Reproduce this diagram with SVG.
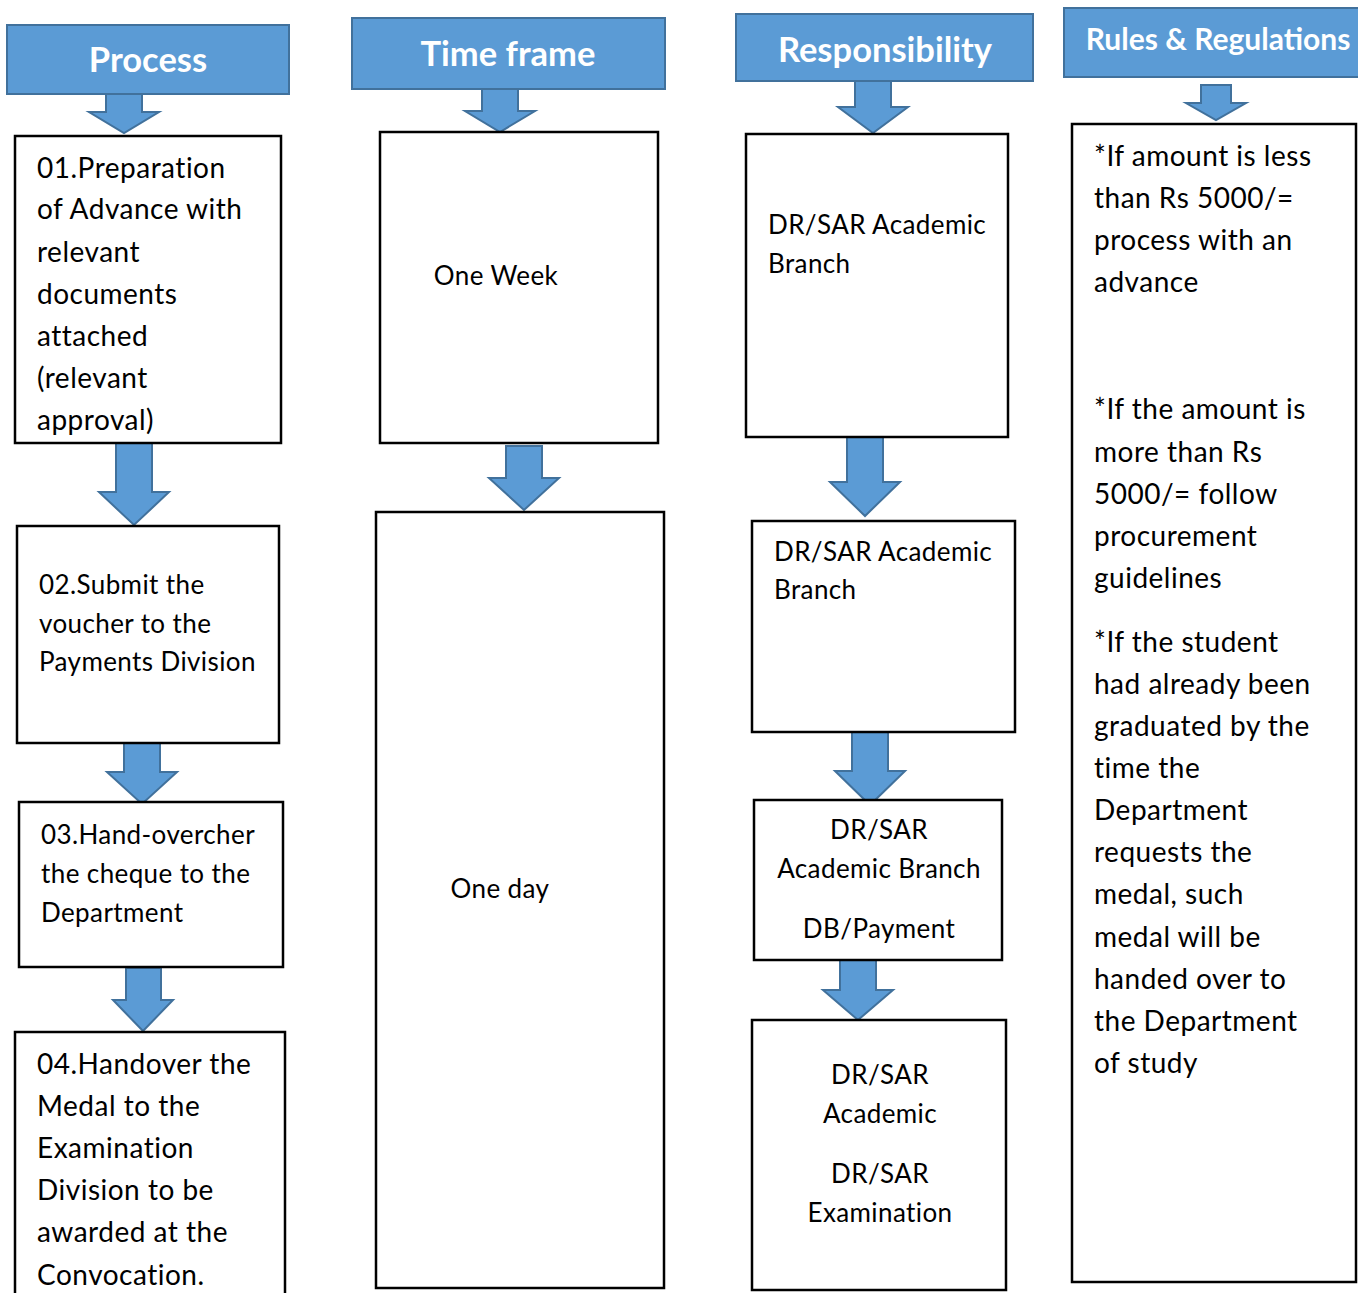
<svg xmlns="http://www.w3.org/2000/svg" width="1358" height="1293" viewBox="0 0 1358 1293">
<style>
.hdr{fill:#5B9BD5;stroke:#41719C;stroke-width:2}
.ht{fill:#fff;font-family:Lato,"Open Sans",sans-serif;font-weight:bold;font-size:34.5px;text-anchor:middle}
.box{fill:#fff;stroke:#000;stroke-width:2.5}
.t{fill:#000;font-family:Lato,"Noto Sans",sans-serif;font-size:28px;letter-spacing:0.5px}
.s{font-size:26px;letter-spacing:0.4px}
.c{text-anchor:middle}
.arr{fill:#5B9BD5;stroke:#41719C;stroke-width:2}
</style>
<rect width="1358" height="1293" fill="#fff"/>
<g id="connectors">
<path class="arr" d="M106,94H142V112H159L124,133L89,112H106Z"/>
<path class="arr" d="M482,89H518V111H535L500,132L465,111H482Z"/>
<path class="arr" d="M855,81H891V107H908L873,133L838,107H855Z"/>
<path class="arr" d="M1201,85H1231V103H1246L1216,120L1186,103H1201Z"/>
<path class="arr" d="M116,443H152V492H169L134,525L99,492H116Z"/>
<path class="arr" d="M124,743H160V772H177L142,804L107,772H124Z"/>
<path class="arr" d="M126,968H161V1000H173L143,1031L113,1000H126Z"/>
<path class="arr" d="M506,446H542V478H559L524,510L489,478H506Z"/>
<path class="arr" d="M847,437H883V482H900L865,516L830,482H847Z"/>
<path class="arr" d="M852,732H888V771H905L870,805L835,771H852Z"/>
<path class="arr" d="M840,958H876V990H893L858,1020L823,990H840Z"/>
</g>
<g id="hdr-process"><rect class="hdr" x="7" y="25" width="282" height="69"/><text class="ht" x="148" y="72">Process</text></g>
<g id="hdr-time"><rect class="hdr" x="352" y="18" width="313" height="71"/><text class="ht" x="508" y="66">Time frame</text></g>
<g id="hdr-resp"><rect class="hdr" x="736" y="14" width="297" height="67"/><text class="ht" x="885" y="62">Responsibility</text></g>
<g id="hdr-rules"><rect class="hdr" x="1064" y="8" width="300" height="69"/><text class="ht" x="1218" y="50" style="font-size:30px">Rules &amp; Regulations</text></g>

<g id="p1"><rect class="box" x="15" y="136" width="266" height="307"/>
<text class="t" x="37" y="178">01.Preparation</text>
<text class="t" x="37" y="219">of Advance with</text>
<text class="t" x="37" y="262">relevant</text>
<text class="t" x="37" y="304">documents</text>
<text class="t" x="37" y="346">attached</text>
<text class="t" x="37" y="388">(relevant</text>
<text class="t" x="37" y="430">approval)</text></g>
<g id="p2"><rect class="box" x="17" y="526" width="262" height="217"/>
<text class="t s" x="39" y="594">02.Submit the</text>
<text class="t s" x="39" y="633">voucher to the</text>
<text class="t s" x="39" y="671">Payments Division</text></g>
<g id="p3"><rect class="box" x="19" y="802" width="264" height="165"/>
<text class="t s" x="41" y="844">03.Hand-overcher</text>
<text class="t s" x="41" y="883">the cheque to the</text>
<text class="t s" x="41" y="922">Department</text></g>
<g id="p4"><rect class="box" x="15" y="1032" width="270" height="280"/>
<text class="t" x="37" y="1074">04.Handover the</text>
<text class="t" x="37" y="1116">Medal to the</text>
<text class="t" x="37" y="1158">Examination</text>
<text class="t" x="37" y="1200">Division to be</text>
<text class="t" x="37" y="1242">awarded at the</text>
<text class="t" x="37" y="1285">Convocation.</text></g>

<g id="t1"><rect class="box" x="380" y="132" width="278" height="311"/>
<text class="t s c" x="496" y="285">One Week</text></g>
<g id="t2"><rect class="box" x="376" y="512" width="288" height="776"/>
<text class="t s c" x="500" y="898">One day</text></g>

<g id="r1"><rect class="box" x="746" y="134" width="262" height="303"/>
<text class="t s" x="768" y="234">DR/SAR Academic</text>
<text class="t s" x="768" y="273">Branch</text></g>
<g id="r2"><rect class="box" x="752" y="521" width="263" height="211"/>
<text class="t s" x="774" y="561">DR/SAR Academic</text>
<text class="t s" x="774" y="599">Branch</text></g>
<g id="r3"><rect class="box" x="754" y="800" width="248" height="160"/>
<text class="t s c" x="879" y="839">DR/SAR</text>
<text class="t s c" x="879" y="878">Academic Branch</text>
<text class="t s c" x="879" y="938">DB/Payment</text></g>
<g id="r4"><rect class="box" x="752" y="1020" width="254" height="270"/>
<text class="t s c" x="880" y="1084">DR/SAR</text>
<text class="t s c" x="880" y="1123">Academic</text>
<text class="t s c" x="880" y="1183">DR/SAR</text>
<text class="t s c" x="880" y="1222">Examination</text></g>

<g id="rules"><rect class="box" x="1072" y="124" width="284" height="1158"/>
<text class="t" x="1094" y="166">*If amount is less</text>
<text class="t" x="1094" y="208">than Rs 5000/=</text>
<text class="t" x="1094" y="250">process with an</text>
<text class="t" x="1094" y="292">advance</text>
<text class="t" x="1094" y="419">*If the amount is</text>
<text class="t" x="1094" y="462">more than Rs</text>
<text class="t" x="1094" y="504">5000/= follow</text>
<text class="t" x="1094" y="546">procurement</text>
<text class="t" x="1094" y="588">guidelines</text>
<text class="t" x="1094" y="652">*If the student</text>
<text class="t" x="1094" y="694">had already been</text>
<text class="t" x="1094" y="736">graduated by the</text>
<text class="t" x="1094" y="778">time the</text>
<text class="t" x="1094" y="820">Department</text>
<text class="t" x="1094" y="862">requests the</text>
<text class="t" x="1094" y="904">medal, such</text>
<text class="t" x="1094" y="947">medal will be</text>
<text class="t" x="1094" y="989">handed over to</text>
<text class="t" x="1094" y="1031">the Department</text>
<text class="t" x="1094" y="1073">of study</text></g>
</svg>
